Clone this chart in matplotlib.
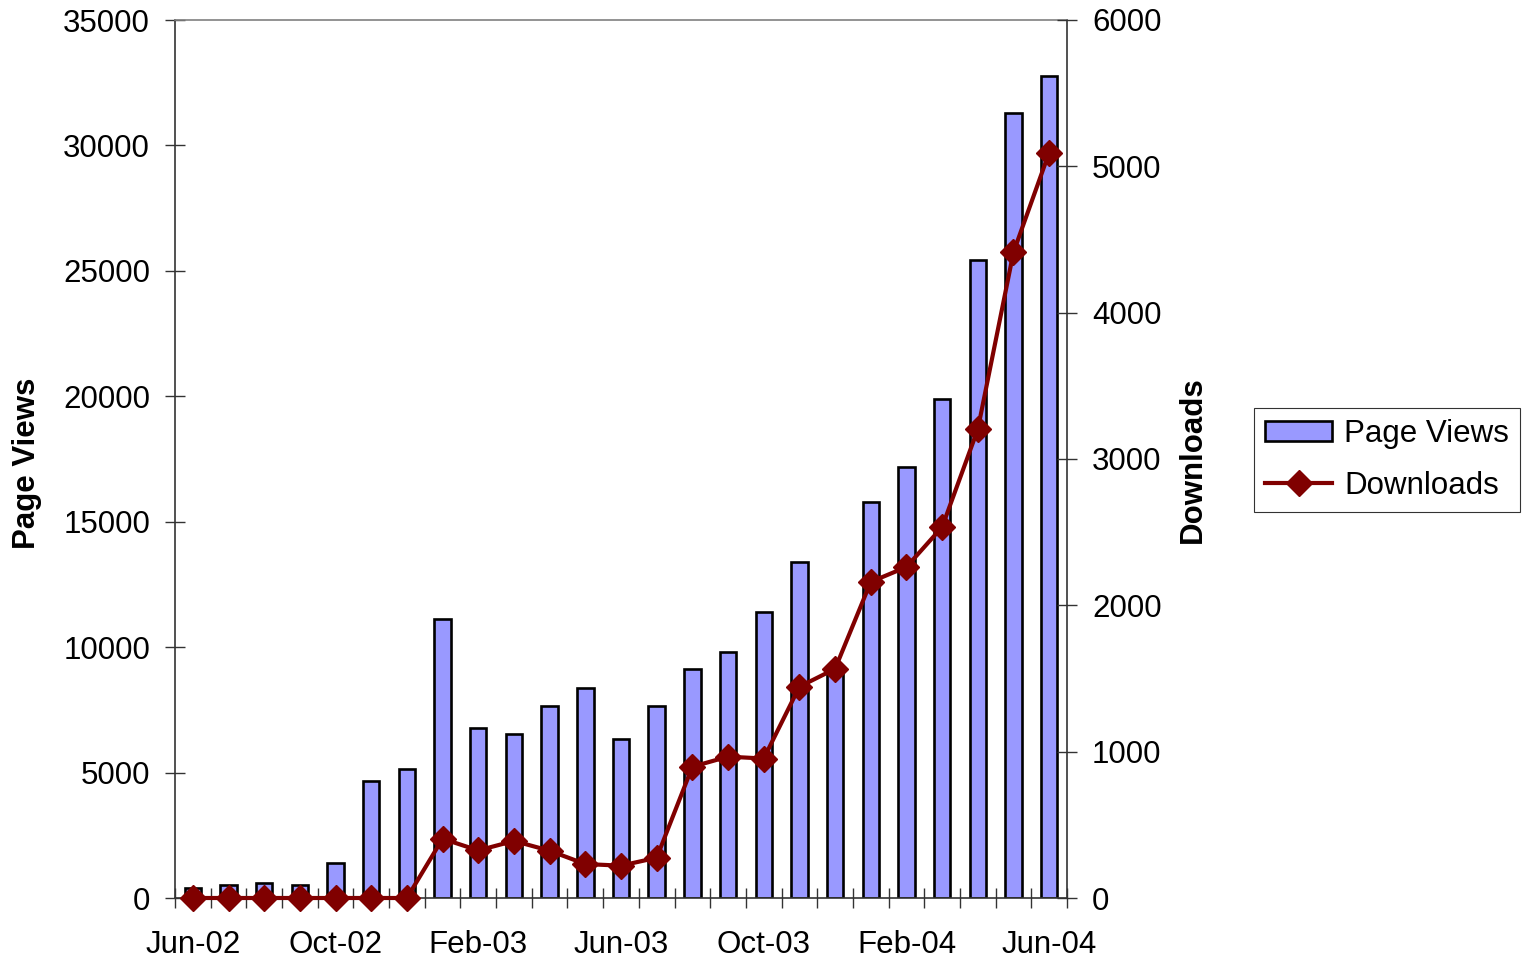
import matplotlib
matplotlib.use("Agg")
import matplotlib.pyplot as plt
import numpy as np

plt.rcParams['font.family'] = ['Liberation Sans', 'DejaVu Sans']

months = ["Jun-02", "Jul-02", "Aug-02", "Sep-02", "Oct-02", "Nov-02", "Dec-02",
          "Jan-03", "Feb-03", "Mar-03", "Apr-03", "May-03", "Jun-03", "Jul-03",
          "Aug-03", "Sep-03", "Oct-03", "Nov-03", "Dec-03", "Jan-04", "Feb-04",
          "Mar-04", "Apr-04", "May-04", "Jun-04"]
page_views = [400, 500, 590, 500, 1380, 4650, 5140, 11120, 6760, 6550, 7650, 8360,
              6350, 7650, 9130, 9820, 11420, 13400, 9120, 15790, 17180, 19880,
              25430, 31290, 32760]
downloads = [0, 0, 0, 0, 0, 0, 0, 405, 325, 390, 323, 232, 221, 275, 897, 966,
             953, 1444, 1566, 2160, 2262, 2535, 3203, 4413, 5094]
left_ticks = [0, 5000, 10000, 15000, 20000, 25000, 30000, 35000]
right_ticks = [0, 1000, 2000, 3000, 4000, 5000, 6000]
label_every = 4

FS = 22.5
W, H = 1527, 961
fig = plt.figure(figsize=(W / 100, H / 100), dpi=100)
x0, x1, ytop, ybot = 175, 1067, 20, 898
ax = fig.add_axes([x0 / W, (H - ybot) / H, (x1 - x0) / W, (ybot - ytop) / H])

x = np.arange(len(months))
bars = ax.bar(x, page_views, width=0.46, color='#9999FF', edgecolor='black',
              linewidth=1.9, label='Page Views', zorder=2)
ax.set_xlim(-0.5, len(months) - 0.5)
ax.set_ylim(0, 35000)
ax.set_yticks(left_ticks)
ax.set_yticklabels([str(t) for t in left_ticks])

ax.set_xticks(x[::label_every])
ax.set_xticklabels(months[::label_every])
ax.set_xticks(np.arange(len(months) + 1) - 0.5, minor=True)
ax.tick_params(axis='x', which='major', length=0, labelsize=FS, pad=23)
ax.tick_params(axis='x', which='minor', direction='inout', length=14, width=1, color='#333333')
ax.tick_params(axis='y', direction='inout', length=14, width=1, labelsize=FS, color='#333333', pad=11)

for s in ['left', 'bottom', 'right']:
    ax.spines[s].set_color('#333333')
    ax.spines[s].set_linewidth(1.2)
ax.spines['top'].set_color('#808080')
ax.spines['top'].set_linewidth(1.2)

ax2 = ax.twinx()
line, = ax2.plot(x, downloads, color='#800000', linewidth=3.0, marker='D',
                 markersize=13.5, markeredgecolor='#800000', label='Downloads',
                 zorder=3, clip_on=False)
ax2.set_ylim(0, 6000)
ax2.set_yticks(right_ticks)
ax2.set_yticklabels([str(t) for t in right_ticks])
ax2.tick_params(axis='y', direction='inout', length=14, width=1, labelsize=FS, color='#333333', pad=11)
for s in ['left', 'bottom', 'right', 'top']:
    ax2.spines[s].set_visible(False)

fig.text(27 / W, (H - 463) / H, 'Page Views', rotation=90, ha='center', va='center',
         fontsize=FS, fontweight='bold')
fig.text(1193 / W, (H - 460) / H, 'Downloads', rotation=90, ha='center', va='center',
         fontsize=FS, fontweight='bold')

leg = fig.legend([bars, line], ['Page Views', 'Downloads'], loc='upper left',
                 bbox_to_anchor=(1254 / W, (H - 408) / H), fontsize=FS,
                 frameon=True, fancybox=False, edgecolor='black',
                 handlelength=2.15, handleheight=0.6, borderpad=0.35,
                 labelspacing=0.7, handletextpad=0.38, borderaxespad=0)
leg.get_frame().set_linewidth(0.8)

fig.savefig('out.png', dpi=100)
